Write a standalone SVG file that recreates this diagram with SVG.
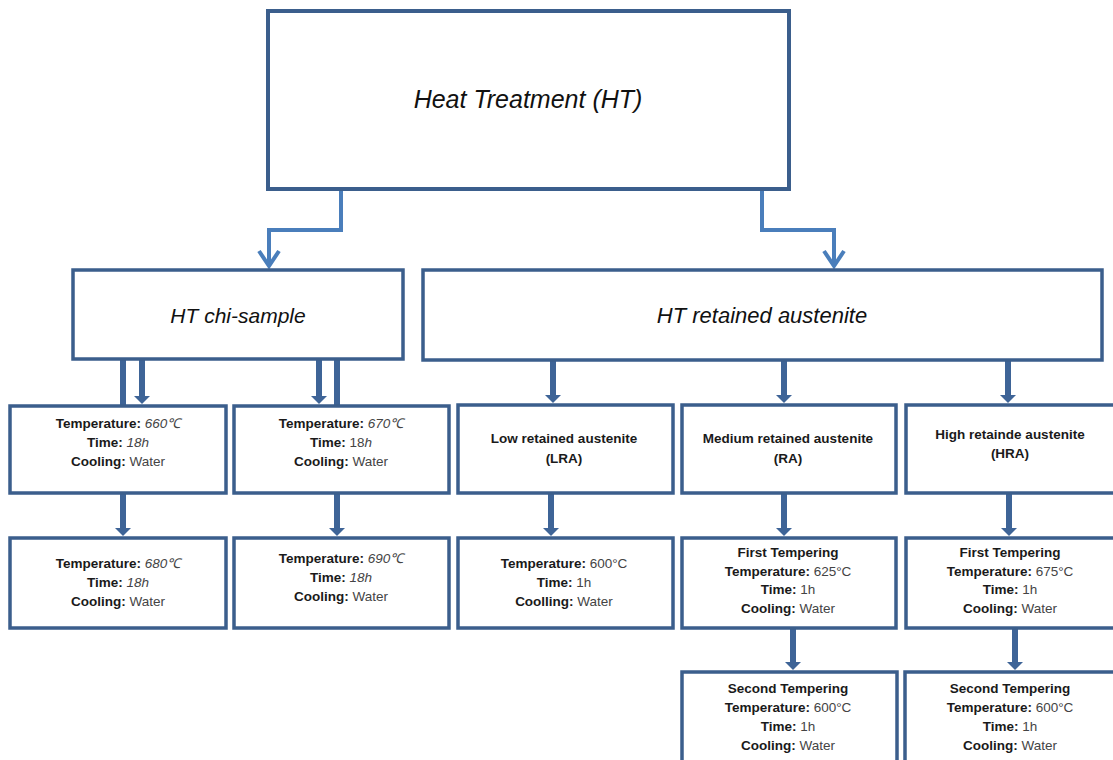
<svg xmlns="http://www.w3.org/2000/svg" width="1113" height="760" viewBox="0 0 1113 760">
<style>
.box{fill:#ffffff;stroke:#3b5e8c;stroke-width:3.5}
.big{fill:#ffffff;stroke:#3b5e8c;stroke-width:4}
.t{font-family:"Liberation Sans",Arial,sans-serif;font-size:13.5px;fill:#1a1a1a;text-anchor:middle}
.b{font-weight:bold}
.i{font-style:italic;fill:#444}
.r{fill:#444}
.title{font-family:"Liberation Sans",Arial,sans-serif;font-style:italic;fill:#111;text-anchor:middle}
.thin{fill:none;stroke:#4a7ebb;stroke-width:4}
.thick{fill:none;stroke:#3e6497;stroke-width:6}
</style>
<defs>
<marker id="tri" viewBox="0 0 8 16" refX="0" refY="8" markerWidth="8" markerHeight="16" markerUnits="userSpaceOnUse" orient="auto">
<path d="M0,0 L8,8 L0,16 z" fill="#3e6497"/>
</marker>
</defs>
<rect width="1113" height="760" fill="#ffffff"/>

<g id="connectors">
<path class="thin" d="M341,189 V230 H269 V266"/>
<path class="thin" d="M259,251 L269,266 L279,251"/>
<path class="thin" d="M762,189 V230 H834 V266"/>
<path class="thin" d="M824,251 L834,266 L844,251"/>

<line class="thick" x1="123" y1="360" x2="123" y2="405"/>
<line class="thick" x1="142" y1="360" x2="142" y2="396" marker-end="url(#tri)"/>
<line class="thick" x1="319" y1="360" x2="319" y2="396" marker-end="url(#tri)"/>
<line class="thick" x1="337" y1="360" x2="337" y2="405"/>
<line class="thick" x1="123" y1="494" x2="123" y2="528" marker-end="url(#tri)"/>
<line class="thick" x1="337" y1="494" x2="337" y2="528" marker-end="url(#tri)"/>

<line class="thick" x1="553" y1="361" x2="553" y2="395" marker-end="url(#tri)"/>
<line class="thick" x1="784" y1="361" x2="784" y2="395" marker-end="url(#tri)"/>
<line class="thick" x1="1008" y1="361" x2="1008" y2="395" marker-end="url(#tri)"/>
<line class="thick" x1="551" y1="494" x2="551" y2="528" marker-end="url(#tri)"/>
<line class="thick" x1="784" y1="494" x2="784" y2="528" marker-end="url(#tri)"/>
<line class="thick" x1="1009" y1="494" x2="1009" y2="528" marker-end="url(#tri)"/>
<line class="thick" x1="793" y1="629" x2="793" y2="662" marker-end="url(#tri)"/>
<line class="thick" x1="1015" y1="629" x2="1015" y2="662" marker-end="url(#tri)"/>
</g>

<g id="heat-treatment">
<rect class="big" x="268" y="11" width="521" height="178"/>
<text class="title" x="528" y="108" font-size="25">Heat Treatment (HT)</text>
</g>

<g id="chi-sample">
<rect class="box" x="73" y="270" width="330" height="89"/>
<text class="title" x="238" y="323" font-size="21">HT chi-sample</text>
</g>

<g id="retained-austenite">
<rect class="box" x="423" y="270" width="679" height="90"/>
<text class="title" x="762" y="323" font-size="22">HT retained  austenite</text>
</g>

<g id="chi-660">
<rect class="box" x="10" y="406" width="216" height="87"/>
<text class="t" x="118" y="428"><tspan class="b">Temperature: </tspan><tspan class="i">660℃</tspan></text>
<text class="t" x="118" y="447"><tspan class="b">Time: </tspan><tspan class="i">18h</tspan></text>
<text class="t" x="118" y="466"><tspan class="b">Cooling: </tspan><tspan class="r">Water</tspan></text>
</g>

<g id="chi-670">
<rect class="box" x="234" y="406" width="215" height="87"/>
<text class="t" x="341" y="428"><tspan class="b">Temperature: </tspan><tspan class="i">670℃</tspan></text>
<text class="t" x="341" y="447"><tspan class="b">Time: </tspan><tspan class="r">18</tspan><tspan class="i">h</tspan></text>
<text class="t" x="341" y="466"><tspan class="b">Cooling: </tspan><tspan class="r">Water</tspan></text>
</g>

<g id="chi-680">
<rect class="box" x="10" y="538" width="216" height="90"/>
<text class="t" x="118" y="568"><tspan class="b">Temperature: </tspan><tspan class="i">680℃</tspan></text>
<text class="t" x="118" y="587"><tspan class="b">Time: </tspan><tspan class="i">18h</tspan></text>
<text class="t" x="118" y="606"><tspan class="b">Cooling: </tspan><tspan class="r">Water</tspan></text>
</g>

<g id="chi-690">
<rect class="box" x="234" y="538" width="215" height="90"/>
<text class="t" x="341" y="563"><tspan class="b">Temperature: </tspan><tspan class="i">690℃</tspan></text>
<text class="t" x="341" y="582"><tspan class="b">Time: </tspan><tspan class="i">18h</tspan></text>
<text class="t" x="341" y="601"><tspan class="b">Cooling: </tspan><tspan class="r">Water</tspan></text>
</g>

<g id="lra">
<rect class="box" x="458" y="405" width="215" height="88"/>
<text class="t b" x="564" y="443">Low retained austenite</text>
<text class="t b" x="564" y="463">(LRA)</text>
</g>

<g id="ra">
<rect class="box" x="682" y="405" width="214" height="88"/>
<text class="t b" x="788" y="443">Medium retained austenite</text>
<text class="t b" x="788" y="463">(RA)</text>
</g>

<g id="hra">
<rect class="box" x="906" y="405" width="212" height="88"/>
<text class="t b" x="1010" y="439">High retainde austenite</text>
<text class="t b" x="1010" y="458">(HRA)</text>
</g>

<g id="lra-temper">
<rect class="box" x="458" y="538" width="215" height="90"/>
<text class="t" x="564" y="568"><tspan class="b">Temperature: </tspan><tspan class="r">600°C</tspan></text>
<text class="t" x="564" y="587"><tspan class="b">Time: </tspan><tspan class="r">1h</tspan></text>
<text class="t" x="564" y="606"><tspan class="b">Coolling: </tspan><tspan class="r">Water</tspan></text>
</g>

<g id="ra-first">
<rect class="box" x="682" y="538" width="214" height="90"/>
<text class="t b" x="788" y="557">First Tempering</text>
<text class="t" x="788" y="576"><tspan class="b">Temperature: </tspan><tspan class="r">625°C</tspan></text>
<text class="t" x="788" y="594"><tspan class="b">Time: </tspan><tspan class="r">1h</tspan></text>
<text class="t" x="788" y="613"><tspan class="b">Cooling: </tspan><tspan class="r">Water</tspan></text>
</g>

<g id="hra-first">
<rect class="box" x="906" y="538" width="212" height="90"/>
<text class="t b" x="1010" y="557">First Tempering</text>
<text class="t" x="1010" y="576"><tspan class="b">Temperature: </tspan><tspan class="r">675°C</tspan></text>
<text class="t" x="1010" y="594"><tspan class="b">Time: </tspan><tspan class="r">1h</tspan></text>
<text class="t" x="1010" y="613"><tspan class="b">Cooling: </tspan><tspan class="r">Water</tspan></text>
</g>

<g id="ra-second">
<rect class="box" x="682" y="672" width="215" height="100"/>
<text class="t b" x="788" y="693">Second Tempering</text>
<text class="t" x="788" y="712"><tspan class="b">Temperature: </tspan><tspan class="r">600°C</tspan></text>
<text class="t" x="788" y="731"><tspan class="b">Time: </tspan><tspan class="r">1h</tspan></text>
<text class="t" x="788" y="750"><tspan class="b">Cooling: </tspan><tspan class="r">Water</tspan></text>
</g>

<g id="hra-second">
<rect class="box" x="905" y="672" width="213" height="100"/>
<text class="t b" x="1010" y="693">Second Tempering</text>
<text class="t" x="1010" y="712"><tspan class="b">Temperature: </tspan><tspan class="r">600°C</tspan></text>
<text class="t" x="1010" y="731"><tspan class="b">Time: </tspan><tspan class="r">1h</tspan></text>
<text class="t" x="1010" y="750"><tspan class="b">Cooling: </tspan><tspan class="r">Water</tspan></text>
</g>
</svg>
